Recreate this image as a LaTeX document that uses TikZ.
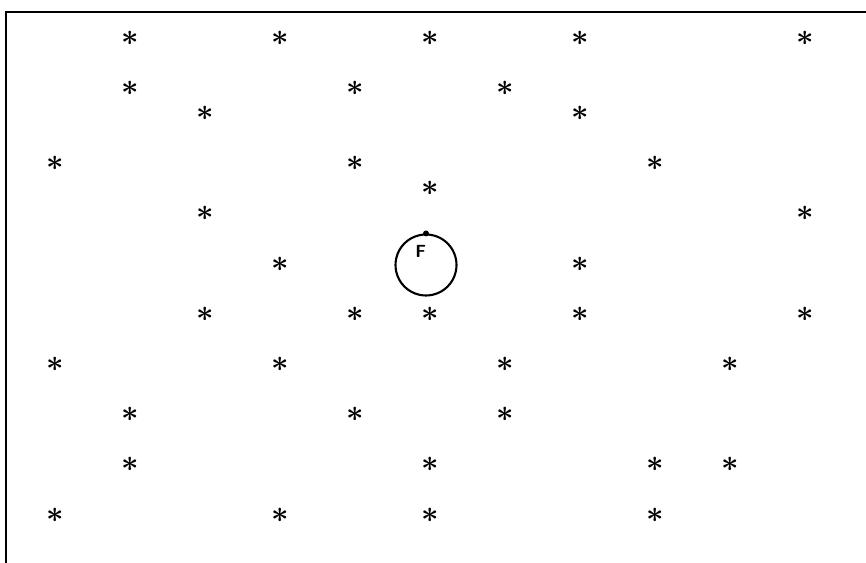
\documentclass[tikz,border=0pt]{standalone}
\usepackage{amsmath}
\usepackage{tikz}
\usetikzlibrary{positioning}

\begin{document}
\begin{tikzpicture}[
  x=0.02cm, y=-0.02cm,
  font=\footnotesize,
  star/.style={inner sep=0pt, font=\LARGE\boldmath},
  frameline/.style={line width=1.1pt},
  ring/.style={circle, draw, line width=1.2pt, minimum size=1.22cm, inner sep=0pt},
]
  \useasboundingbox (0,0) rectangle (866,563);

  % frame (only top and left edges are in view)
  \coordinate (fbl) at (6,563);
  \coordinate (ftl) at (6,12);
  \coordinate (ftr) at (866,12);
  \draw[frameline] (fbl) -- (ftl) -- (ftr);

  % stars, given as column/row on a 75 x 25.1 grid
  \foreach \c/\r [count=\i] in {
      1/0, 3/0, 5/0, 7/0, 10/0,
      1/2, 4/2, 6/2,
      2/3, 7/3,
      0/5, 4/5, 8/5,
      5/6,
      2/7, 10/7,
      3/9, 7/9,
      2/11, 4/11, 5/11, 7/11, 10/11,
      0/13, 3/13, 6/13, 9/13,
      1/15, 4/15, 6/15,
      1/17, 5/17, 8/17, 9/17,
      0/19, 3/19, 5/19, 8/19}
    \node[star] (s\i) at ({55+75*\c},{38+25.1*\r}) {$\ast$};

  % the probe circle
  \node[ring] (probe) at (426,265) {};
  \node[font=\sffamily\bfseries, below=3pt of probe.north, xshift=-3pt] (flabel) {F};
  \fill (probe.north) circle (3);

\end{tikzpicture}
\end{document}
